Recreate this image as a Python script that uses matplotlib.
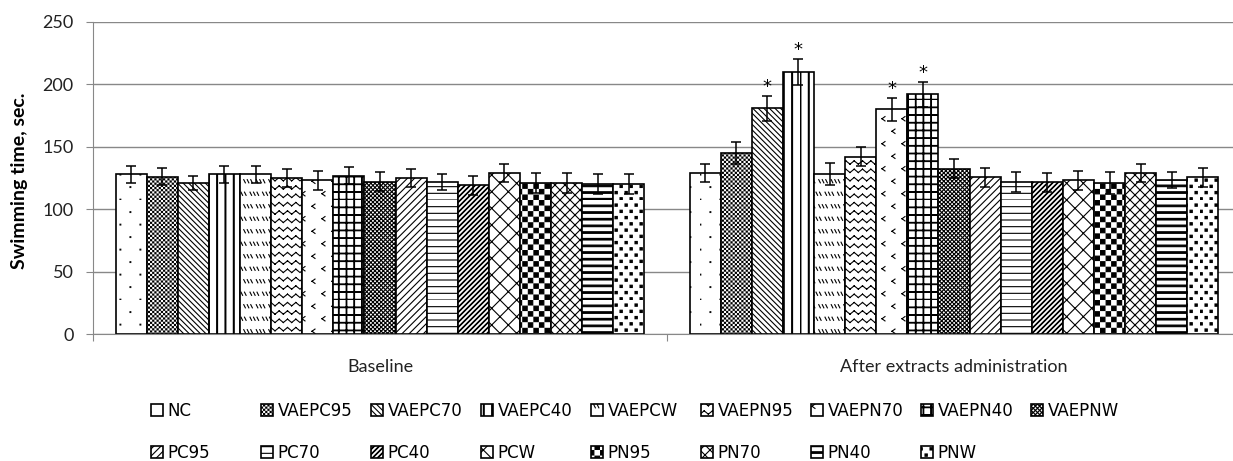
import warnings
import numpy as np
import matplotlib
matplotlib.use("Agg")
import matplotlib.pyplot as plt
import matplotlib.hatch as mhatch
from matplotlib.patches import Rectangle
from matplotlib.path import Path

warnings.filterwarnings("ignore")

series = ["NC", "VAEPC95", "VAEPC70", "VAEPC40", "VAEPCW", "VAEPN95", "VAEPN70",
          "VAEPN40", "VAEPNW", "PC95", "PC70", "PC40", "PCW", "PN95", "PN70", "PN40", "PNW"]
groups = ["Baseline", "After extracts administration"]

baseline = [128, 126, 121, 128, 128, 125, 123, 127, 122, 125, 122, 119, 129, 121, 121, 120, 120]
baseline_err = [7, 7, 6, 7, 7, 7, 8, 7, 7.5, 7.5, 6.5, 7.5, 7.5, 8, 8, 8, 8]
after = [129, 145, 181, 210, 128, 142, 180, 192, 132.5, 125.5, 122, 121.5, 123, 121, 129, 123.5, 125.5]
after_err = [7.5, 9, 10, 10.5, 9, 7.5, 9.5, 10, 7.5, 7.5, 8, 7.5, 7.5, 8.5, 7, 6.5, 7.5]
significant = ["VAEPC70", "VAEPC40", "VAEPN70", "VAEPN40"]

DPI = 100
plt.rcParams["hatch.linewidth"] = 0.8
STROKE = 0.8 * DPI / 72.0


def measure_tile():
    # how many pixels one hatch unit covers on this canvas ('|' has 6 lines per unit)
    f = plt.figure(figsize=(6, 1), dpi=DPI)
    a = f.add_axes([0, 0, 1, 1])
    a.set_axis_off()
    a.add_patch(Rectangle((0, 0), 1, 1, transform=a.transAxes, facecolor="white",
                          edgecolor="black", linewidth=0, hatch="|"))
    f.canvas.draw()
    row = np.asarray(f.canvas.buffer_rgba())[50, :, 0].astype(float)
    plt.close(f)
    dark = np.where(row < 170)[0]
    if len(dark) < 4:
        return float(DPI)
    starts = dark[np.r_[True, np.diff(dark) > 1]]
    if len(starts) < 3:
        return float(DPI)
    return (starts[-1] - starts[0]) / (len(starts) - 1) * 6


TILE = measure_tile()


# --- Excel-like fill patterns, sizes in pixels --------------------------------
def u(px):
    return px / TILE


def count(period, even=False):
    n = max(1, int(round(TILE / period)))
    if even and n % 2:
        n += 1
    return n


def rect(x0, y0, x1, y1):
    return ([(x0, y0), (x1, y0), (x1, y1), (x0, y1), (x0, y0)], True)


def seg(x0, y0, x1, y1):
    return ([(x0, y0), (x1, y1)], False)


def diag(period, up=True, doubled=False):
    n = count(period)
    out = []
    for k in range(-n, n + 1):
        for d in ([0, u(0.9)] if doubled else [0]):
            c = k / n + d
            out.append(seg(c, 0, c + 1, 1) if up else seg(c, 1, c + 1, 0))
    return out


def hl(period, thick=0.0):
    n = count(period)
    if thick <= STROKE:
        return [seg(-0.01, k / n, 1.01, k / n) for k in range(n)]
    core = u(thick - STROKE)
    return [rect(-0.01, k / n, 1.01, k / n + core) for k in range(n)]


def vl(period, thick=0.0):
    n = count(period)
    if thick <= STROKE:
        return [seg(k / n, -0.01, k / n, 1.01) for k in range(n)]
    core = u(thick - STROKE)
    return [rect(k / n, -0.01, k / n + core, 1.01) for k in range(n)]


def checker(cell):
    n = count(cell, even=True)
    s = 1.0 / n
    d = max(s - u(cell - STROKE), 0) / 2 if cell > STROKE else s / 2 - u(0.05)
    return [rect(i * s + d, j * s + d, (i + 1) * s - d, (j + 1) * s - d)
            for i in range(n) for j in range(n) if (i + j) % 2 == 0]


def dots(size, px, py):
    nx, ny = count(px), count(py, even=True)
    core = u(max(size - STROKE, 0.1))
    out = []
    for j in range(ny):
        off = 0.5 / nx if j % 2 else 0.0
        for i in range(nx):
            x0, y0 = i / nx + off, j / ny
            out.append(rect(x0, y0, x0 + core, y0 + core))
    return out


def zigzag(row, period, amp):
    ny, nx = count(row), count(period)
    a = u(amp)
    out = []
    for k in range(ny):
        y = (k + 0.5) / ny
        for m in range(nx):
            x0 = m / nx
            xm = x0 + 0.5 / nx
            out.append(seg(x0, y - a, xm, y + a))
            out.append(seg(xm, y + a, x0 + 1 / nx, y - a))
    return out


def dashes(row, cluster):
    ny, nx = count(row, even=True), count(cluster)
    out = []
    for k in range(ny):
        y = (k + 0.5) / ny
        off = 0.5 / nx if k % 2 else 0.0
        for c in range(nx):
            for d in range(3):
                x = c / nx + off + d * u(3.5)
                out.append(seg(x, y + u(1.6), x + u(1.6), y - u(1.6)))
    return out


def chevrons(row, col):
    ny, nx = count(row, even=True), count(col)
    out = []
    for k in range(ny):
        y = (k + 0.5) / ny
        off = 0.5 / nx if k % 2 else 0.0
        for c in range(nx):
            x = c / nx + off + u(2)
            out.append(seg(x + u(3), y + u(2.2), x, y))
            out.append(seg(x, y, x + u(3), y - u(2.2)))
    return out


patterns = {
    "NC": dots(1.9, 20, 12),
    "VAEPC95": checker(2.2),
    "VAEPC70": diag(5.5, up=False),
    "VAEPC40": vl(8, 2.0),
    "VAEPCW": dashes(13, 13),
    "VAEPN95": zigzag(8.5, 8, 1.7),
    "VAEPN70": chevrons(13, 20),
    "VAEPN40": vl(7.7, 1.8) + hl(7.7, 1.8),
    "VAEPNW": diag(4.2) + diag(4.2, up=False),
    "PC95": diag(7),
    "PC70": hl(6.7),
    "PC40": diag(5, doubled=True),
    "PCW": diag(16) + diag(16, up=False),
    "PN95": checker(5.5),
    "PN70": diag(10) + diag(10, up=False),
    "PN40": hl(6.7, 2.7),
    "PNW": dots(3.4, 10, 6.5),
}
codes_chars = "ABCDEFGHIJKLMNPQR"
CUSTOM = {codes_chars[i]: patterns[name] for i, name in enumerate(series)}


class CustomHatch(mhatch.HatchPatternBase):
    def __init__(self, hatch, density):
        self.parts = []
        for ch in hatch:
            if ch in CUSTOM:
                self.parts.extend(CUSTOM[ch])
        self.num_vertices = sum(len(p) for p, _ in self.parts)

    def set_vertices_and_codes(self, vertices, codes):
        i = 0
        for pts, closed in self.parts:
            n = len(pts)
            vertices[i:i + n] = pts
            codes[i] = Path.MOVETO
            codes[i + 1:i + n] = Path.LINETO
            if closed:
                codes[i + n - 1] = Path.CLOSEPOLY
            i += n


mhatch._hatch_types.append(CustomHatch)

# --- figure ---------------------------------------------------------------
W, H = 1233, 461
fig = plt.figure(figsize=(W / DPI, H / DPI), dpi=DPI)
ax = fig.add_axes([93 / W, (H - 334) / H, (1241 - 93) / W, 312 / H])

n = len(series)
width = 0.0542
containers = []
for i, name in enumerate(series):
    xs = [g + (i - (n - 1) / 2) * width for g in range(len(groups))]
    bc = ax.bar(xs, [baseline[i], after[i]], width, yerr=[baseline_err[i], after_err[i]],
                color="white", edgecolor="black", linewidth=1.2, hatch=codes_chars[i],
                capsize=3.8, error_kw=dict(elinewidth=1.1, capthick=1.1, ecolor="black"))
    containers.append(bc)
    if name in significant:
        ax.text(xs[1], after[i] + after_err[i] + 7, "*", ha="center", va="center",
                fontsize=13, family="DejaVu Sans")

grey = "#888888"
ax.set_xlim(-0.5, 1.5)
ax.set_ylim(0, 250)
ax.set_yticks(range(0, 251, 50))
ax.yaxis.grid(True, color=grey, lw=1)
ax.set_axisbelow(True)
for s in ["top", "right"]:
    ax.spines[s].set_visible(False)
for s in ["left", "bottom"]:
    ax.spines[s].set_color(grey)
ax.tick_params(axis="y", length=5, color=grey, pad=9, labelsize=13, labelcolor="#222222")
for lab in ax.get_yticklabels():
    lab.set_family("Lato")

ax.set_xticks([-0.5, 0.5, 1.5])
ax.set_xticklabels([])
ax.tick_params(axis="x", which="major", length=5, color=grey)
ax.set_xticks(range(len(groups)), minor=True)
ax.set_xticklabels(groups, minor=True, family="Lato", fontsize=13, color="#222222")
ax.tick_params(axis="x", which="minor", length=0, pad=18)

fig.text(20 / W, 1 - 181 / H, "Swimming time, sec.", rotation=90, ha="center",
         va="center", fontsize=14, fontweight="bold", family="Lato")

# legend laid out on a fixed grid like the original
for i, (bc, name) in enumerate(zip(containers, series)):
    col, row = i % 9, i // 9
    x = 150.7 + 110 * col
    y = 411 if row == 0 else 453
    fig.legend([bc], [name], loc="center left", bbox_to_anchor=(x / W, 1 - y / H),
               frameon=False, borderpad=0, borderaxespad=0, handlelength=0.72,
               handleheight=0.72, handletextpad=0.3,
               prop=dict(family="DejaVu Sans", size=12))

fig.savefig("out.png", dpi=DPI)
